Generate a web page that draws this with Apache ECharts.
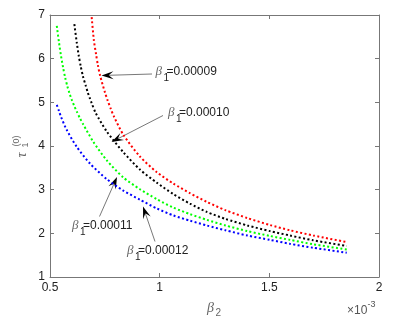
<!DOCTYPE html>
<html>
<head>
<meta charset="utf-8">
<script src="https://cdn.jsdelivr.net/npm/echarts@6/dist/echarts.min.js"></script>
<style>
  html, body { margin: 0; padding: 0; background: #fff; }
  #chart { width: 398px; height: 328px; }
</style>
</head>
<body>
<div id="chart"></div>
<script>
// axis ticks
const xTicks = [0.5, 1, 1.5, 2];
const yTicks = [1, 2, 3, 4, 5, 6, 7];

// beta_1 values of the four curves
const beta1Labels = ['0.00009', '0.00010', '0.00011', '0.00012'];

// curves (beta_2 in 1e-3, tau_1^(0))
const redBeta2 = [0.690, 0.700, 0.710, 0.718, 0.729, 0.751, 0.763, 0.778, 0.792, 0.834, 0.910, 0.987, 1.062, 1.138, 1.215, 1.300, 1.400, 1.503, 1.594, 1.700, 1.853];
const redTau   = [6.95, 6.42, 6.10, 5.86, 5.60, 5.22, 5.04, 4.84, 4.67, 4.26, 3.76, 3.40, 3.14, 2.92, 2.72, 2.53, 2.35, 2.19, 2.07, 1.95, 1.80];

const blackBeta2 = [0.611, 0.622, 0.631, 0.640, 0.650, 0.663, 0.672, 0.681, 0.690, 0.708, 0.759, 0.834, 0.910, 0.987, 1.062, 1.138, 1.215, 1.300, 1.400, 1.503, 1.594, 1.700, 1.853];
const blackTau   = [6.79, 6.37, 6.07, 5.83, 5.60, 5.38, 5.23, 5.10, 4.98, 4.76, 4.33, 3.86, 3.46, 3.16, 2.90, 2.68, 2.49, 2.33, 2.18, 2.05, 1.95, 1.84, 1.71];

const greenBeta2 = [0.531, 0.541, 0.550, 0.560, 0.569, 0.579, 0.588, 0.599, 0.611, 0.622, 0.637, 0.652, 0.697, 0.759, 0.834, 0.910, 0.987, 1.062, 1.138, 1.215, 1.300, 1.400, 1.503, 1.594, 1.700, 1.853];
const greenTau   = [6.75, 6.37, 6.07, 5.79, 5.57, 5.37, 5.22, 5.06, 4.91, 4.79, 4.63, 4.49, 4.10, 3.67, 3.28, 3.01, 2.78, 2.59, 2.44, 2.31, 2.18, 2.05, 1.94, 1.85, 1.75, 1.63];

const blueBeta2 = [0.531, 0.541, 0.550, 0.576, 0.622, 0.682, 0.759, 0.834, 0.910, 0.987, 1.062, 1.138, 1.215, 1.300, 1.400, 1.503, 1.594, 1.700, 1.853];
const blueTau   = [4.94, 4.80, 4.67, 4.37, 3.98, 3.60, 3.24, 2.98, 2.77, 2.57, 2.41, 2.29, 2.18, 2.07, 1.95, 1.85, 1.76, 1.67, 1.556];

const FONT = 'Liberation Sans, Arial, sans-serif';
const SERIF = 'Liberation Serif, DejaVu Serif, serif';
const AXIS_COLOR = '#777';
const TEXT_COLOR = '#222';

const zip = (xs, ys) => xs.map((x, i) => [x, ys[i]]);

const curve = (name, color, xs, ys) => ({
  name: name,
  type: 'line',
  data: zip(xs, ys),
  smooth: 0.25,
  showSymbol: false,
  silent: true,
  lineStyle: { color: color, width: 2, type: [2, 2.4], cap: 'butt' }
});

const axisBase = {
  type: 'value',
  axisLine: { show: true, lineStyle: { color: AXIS_COLOR, width: 1 } },
  axisTick: { show: true, inside: true, length: 4, lineStyle: { color: AXIS_COLOR } },
  splitLine: { show: false },
  axisLabel: { color: TEXT_COLOR, fontSize: 12, fontFamily: FONT, margin: 5 }
};

const xAxisOpts = Object.assign({}, axisBase, {
  min: xTicks[0], max: xTicks[xTicks.length - 1], interval: xTicks[1] - xTicks[0]
});
const yAxisOpts = Object.assign({}, axisBase, {
  min: yTicks[0], max: yTicks[yTicks.length - 1], interval: yTicks[1] - yTicks[0]
});

// arrow: thin shaft plus a notched black head
function arrow(x1, y1, x2, y2) {
  const dx = x2 - x1, dy = y2 - y1;
  const len = Math.sqrt(dx * dx + dy * dy);
  const ux = dx / len, uy = dy / len;
  const nx = -uy, ny = ux;
  const L = 12, W = 8;
  return [
    { type: 'line', shape: { x1: x1, y1: y1, x2: x2 - ux * 6, y2: y2 - uy * 6 },
      style: { stroke: '#555', lineWidth: 0.8 } },
    { type: 'polygon', shape: { points: [
        [x2, y2],
        [x2 - ux * L + nx * W / 2, y2 - uy * L + ny * W / 2],
        [x2 - ux * L * 0.6, y2 - uy * L * 0.6],
        [x2 - ux * L - nx * W / 2, y2 - uy * L - ny * W / 2]
      ] }, style: { fill: '#000' } }
  ];
}

// beta_1 label: italic beta, subscript 1, value
function betaLabel(x, y, value) {
  return {
    type: 'group', x: x, y: y,
    children: [
      { type: 'text', x: 0, y: 0, style: { text: 'β', font: 'italic 13px ' + SERIF, fill: '#666', verticalAlign: 'middle' } },
      { type: 'text', x: 8, y: 6, style: { text: '1', font: '10px ' + FONT, fill: TEXT_COLOR, verticalAlign: 'middle' } },
      { type: 'text', x: 11, y: 0, style: { text: '=' + value, font: '12px ' + FONT, fill: TEXT_COLOR, verticalAlign: 'middle' } }
    ]
  };
}

const graphics = []
  .concat(arrow(152, 74, 101.5, 75.5))
  .concat(arrow(163, 115.5, 111.5, 142))
  .concat(arrow(99.5, 216.5, 117, 177))
  .concat(arrow(155, 241.5, 143, 206.5))
  .concat([
    betaLabel(155.5, 72, beta1Labels[0]),
    betaLabel(168, 113, beta1Labels[1]),
    betaLabel(72, 226, beta1Labels[2]),
    betaLabel(127, 251, beta1Labels[3]),
    // x axis title
    { type: 'text', x: 207, y: 308, style: { text: 'β', font: 'italic 14px ' + SERIF, fill: '#666', verticalAlign: 'middle' } },
    { type: 'text', x: 215.5, y: 313, style: { text: '2', font: '10px ' + FONT, fill: '#666', verticalAlign: 'middle' } },
    // exponent
    { type: 'text', x: 347, y: 311, style: { text: '×10', font: '12px ' + FONT, fill: '#555', verticalAlign: 'middle' } },
    { type: 'text', x: 367.5, y: 305, style: { text: '-3', font: '9px ' + FONT, fill: '#555', verticalAlign: 'middle' } },
    // y axis title (rotated)
    { type: 'group', x: 22, y: 148, rotation: Math.PI / 2, children: [
      { type: 'text', x: -7, y: 0, style: { text: 'τ', font: 'italic 14px ' + SERIF, fill: '#666', align: 'center', verticalAlign: 'middle' } },
      { type: 'text', x: 3, y: 4, style: { text: '1', font: '9px ' + FONT, fill: '#666', align: 'center', verticalAlign: 'middle' } },
      { type: 'text', x: 7, y: -5, style: { text: '(0)', font: '9px ' + FONT, fill: '#666', align: 'center', verticalAlign: 'middle' } }
    ] }
  ]);

const chart = echarts.init(document.getElementById('chart'), null, { renderer: 'canvas' });

chart.setOption({
  animation: false,
  backgroundColor: '#fff',
  grid: { left: 50, right: 19, top: 15, bottom: 51, containLabel: false, outerBoundsMode: 'none' },
  xAxis: [
    xAxisOpts,
    Object.assign({}, xAxisOpts, { position: 'top', axisLabel: { show: false } })
  ],
  yAxis: [
    yAxisOpts,
    Object.assign({}, yAxisOpts, { position: 'right', axisLabel: { show: false } })
  ],
  series: [
    curve('β1=' + beta1Labels[0], '#ff0000', redBeta2, redTau),
    curve('β1=' + beta1Labels[1], '#000000', blackBeta2, blackTau),
    curve('β1=' + beta1Labels[2], '#00ff00', greenBeta2, greenTau),
    curve('β1=' + beta1Labels[3], '#0000ff', blueBeta2, blueTau)
  ],
  graphic: graphics
});

window.addEventListener('resize', () => chart.resize());
</script>
</body>
</html>
